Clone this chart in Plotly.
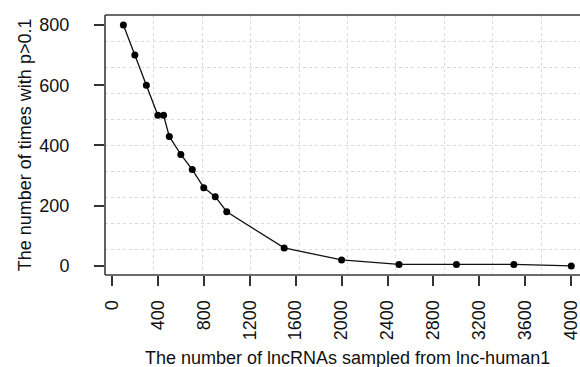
import plotly.graph_objects as go

# Data
n_sampled = [100, 200, 300, 400, 450, 500, 600, 700, 800, 900, 1000, 1500, 2000, 2500, 3000, 3500, 4000]
times_p_gt = [800, 700, 600, 500, 500, 430, 370, 320, 260, 230, 180, 60, 20, 5, 5, 5, 0]
x_ticks = [0, 400, 800, 1200, 1600, 2000, 2400, 2800, 3200, 3600, 4000]
y_ticks = [0, 200, 400, 600, 800]

x_title = "The number of lncRNAs sampled from lnc-human1"
y_title = "The number of times with p>0.1"

FONT = "Liberation Sans, Arial, sans-serif"
TXT = "#111111"
XR = [-60, 4076]
YR = [-30, 833]
GRID = dict(showgrid=True, gridcolor="#d9d9d9", griddash="dot", gridwidth=1)

fig = go.Figure()
# invisible trace to activate grid axes
fig.add_trace(go.Scatter(x=[None], y=[None], xaxis="x2", yaxis="y2", showlegend=False))
fig.add_trace(go.Scatter(
    x=n_sampled, y=times_p_gt, mode="lines+markers",
    line=dict(color="#111111", width=1.3),
    marker=dict(color="#000000", size=7),
    showlegend=False,
))

fig.update_layout(
    width=580, height=367,
    margin=dict(l=105, r=0, t=15, b=92),
    paper_bgcolor="white", plot_bgcolor="white",
    font=dict(family=FONT, size=18, color=TXT),
    xaxis=dict(range=XR, tickmode="array", tickvals=x_ticks, tickangle=-90,
               ticks="outside", ticklen=10, tickwidth=1.5, tickcolor="#333",
               showgrid=False, zeroline=False, showline=False,
               tickfont=dict(size=18, color=TXT), ticklabelstandoff=7,
               ticklabeloverflow="allow"),
    yaxis=dict(range=YR, tickmode="array", tickvals=y_ticks,
               ticks="outside", ticklen=10, tickwidth=1.5, tickcolor="#333",
               showgrid=False, zeroline=False, showline=False,
               tickfont=dict(size=18, color=TXT), ticklabelstandoff=21,
               ticklabeloverflow="allow"),
    xaxis2=dict(range=XR, overlaying="x", tickmode="linear", tick0=-60, dtick=422.3,
                showticklabels=False, ticks="", zeroline=False, **GRID),
    yaxis2=dict(range=YR, overlaying="y", tickmode="linear", tick0=-30, dtick=86.3,
                showticklabels=False, ticks="", zeroline=False, **GRID),
)

# plot box (right edge lies outside the picture)
box = dict(type="line", xref="paper", yref="paper", line=dict(color="#3a3a3a", width=1.6), layer="above")
fig.add_shape(x0=0, x1=1.02, y0=1, y1=1, **box)
fig.add_shape(x0=0, x1=1.02, y0=0, y1=0, **box)
fig.add_shape(x0=0, x1=0, y0=0, y1=1, **box)

fig.add_annotation(text=x_title, xref="paper", yref="paper", x=0.5105, y=-0.318,
                   xanchor="center", yanchor="middle", showarrow=False,
                   font=dict(size=18, color=TXT, family=FONT))
fig.add_annotation(text=y_title, xref="paper", yref="paper", x=-0.168, y=0.5,
                   xanchor="center", yanchor="middle", textangle=-90, showarrow=False,
                   font=dict(size=18, color=TXT, family=FONT))

fig.write_html("out.html")
